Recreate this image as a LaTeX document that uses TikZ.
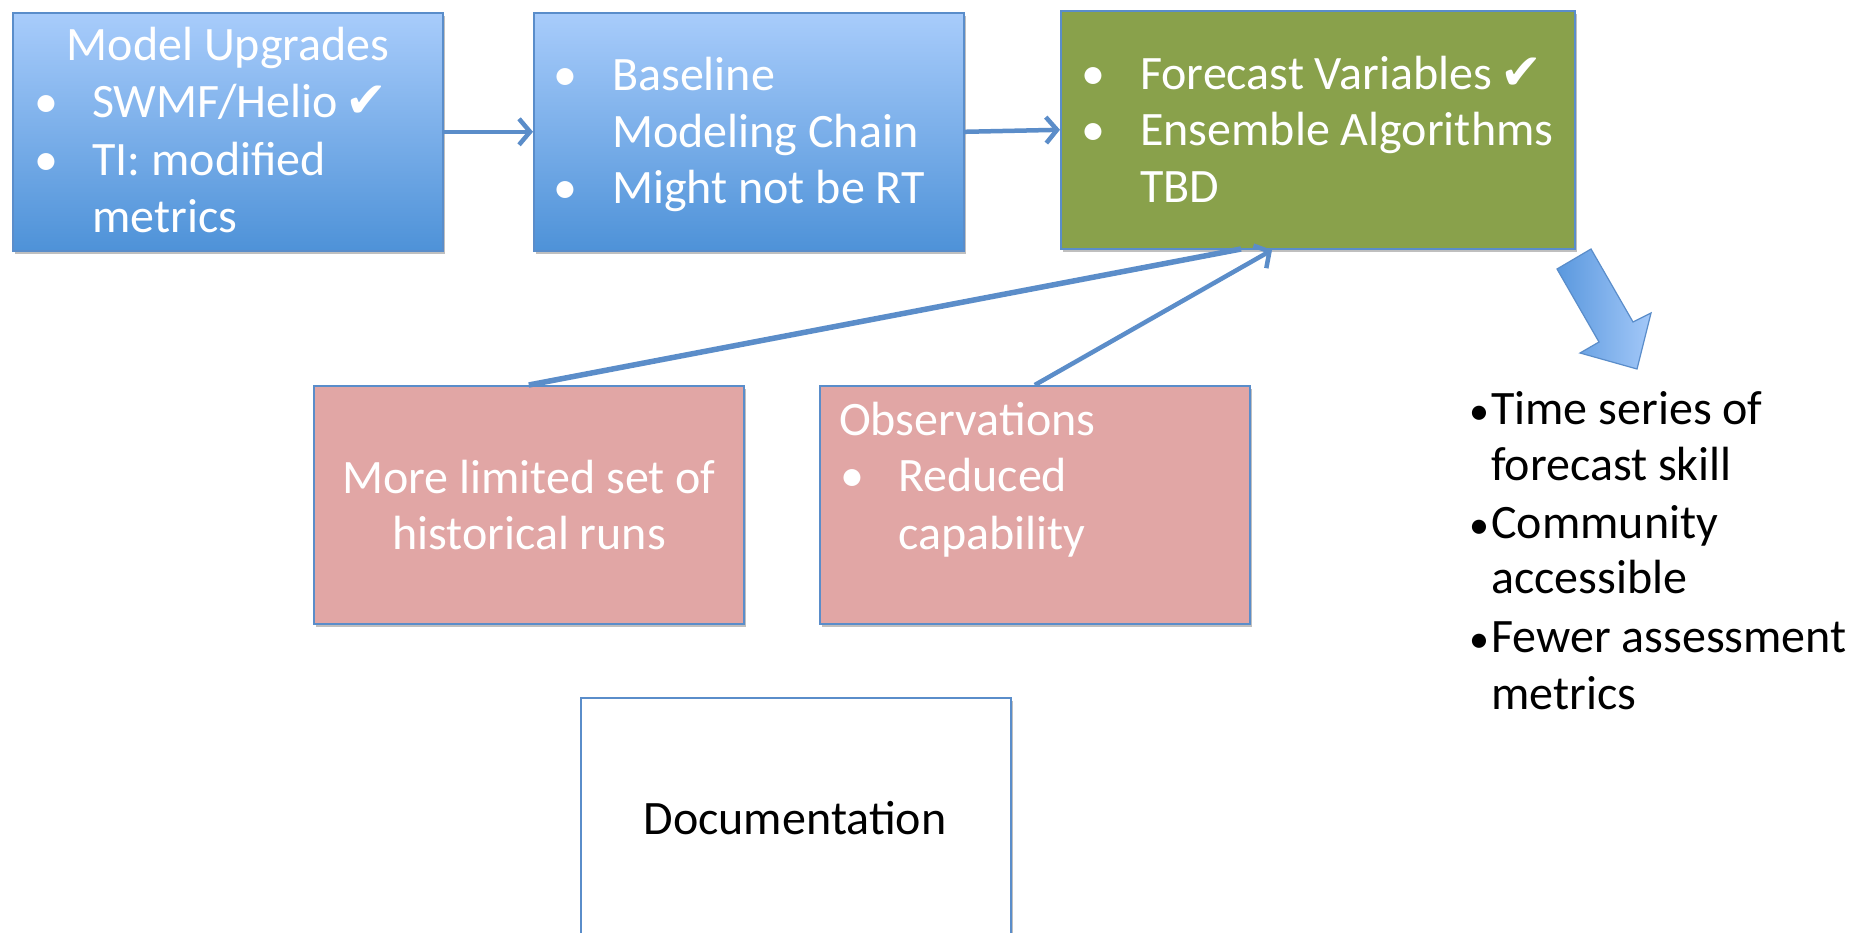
\documentclass[tikz,border=0pt]{standalone}
\usepackage{fontspec}
\setmainfont{Carlito}
\newfontfamily\dejavu{DejaVu Sans}
\newcommand\mychk{{\dejavu\fontsize{50}{50}\selectfont ✔}}
\usetikzlibrary{arrows.meta,shadows}
\definecolor{bluetop}{HTML}{A8CCFB}
\definecolor{bluebot}{HTML}{4E92D8}
\definecolor{edgeblue}{HTML}{5A8DCA}
\definecolor{lineblue}{HTML}{5B8DC9}
\definecolor{olivefill}{HTML}{89A14B}
\definecolor{pinkfill}{HTML}{E1A6A5}
\definecolor{arrdark}{HTML}{5A98DE}
\definecolor{arrlight}{HTML}{A3C8F8}
\tikzset{
  box/.style={draw=edgeblue, line width=1.6pt, minimum width=430pt, minimum height=238pt,
    anchor=north west, inner sep=0pt,
    drop shadow={shadow xshift=2pt, shadow yshift=-3pt, opacity=0.25, fill=black}},
  bluebox/.style={box, top color=bluetop, bottom color=bluebot},
  greenbox/.style={box, fill=olivefill},
  pinkbox/.style={box, fill=pinkfill},
  whitebox/.style={box, fill=white},
  txt/.style={anchor=base west, inner sep=0pt, font=\fontsize{48}{57}\selectfont},
  wtxt/.style={txt, text=white},
  smallbullet/.style={anchor=base west, inner sep=0pt, font=\fontsize{40}{57}\selectfont},
  conn/.style={draw=lineblue, line width=4.5pt},
  arr/.style={conn, -{Straight Barb[length=11pt,width=26pt,line width=4.5pt]}}
}
\begin{document}
\begin{tikzpicture}[x=1pt,y=-1pt]
\useasboundingbox (0,0) rectangle (1853,933);
\clip (0,0) rectangle (1853,933);
\fill[white] (0,0) rectangle (1853,933);

% boxes
\node[bluebox] (mu) at (12,12) {};
\node[bluebox] (bl) at (533,12) {};
\node[greenbox, minimum width=514pt] (fc) at (1060,10) {};
\node[pinkbox] (hr) at (313,385) {};
\node[pinkbox] (ob) at (819,385) {};
\node[whitebox, minimum height=300pt] (doc) at (580,697) {};

% Model Upgrades
\node[wtxt, anchor=base] (mu0) at (228,61) {Model Upgrades};
\node[wtxt] (mub1) at (34,118) {•};
\node[wtxt] (mu1) at (92,118) {SWMF/Helio\,\mychk};
\node[wtxt] (mub2) at (34,176) {•};
\node[wtxt] (mu2) at (92,176) {TI: modified};
\node[wtxt] (mu3) at (92,233) {metrics};

% Baseline
\node[wtxt] (blb1) at (553,91) {•};
\node[wtxt] (bl1) at (612,91) {Baseline};
\node[wtxt] (bl2) at (612,148) {Modeling Chain};
\node[wtxt] (blb2) at (553,204) {•};
\node[wtxt] (bl3) at (612,204) {Might not be RT};

% Forecast
\node[wtxt] (fcb1) at (1081,90) {•};
\node[wtxt] (fc1) at (1140,90) {Forecast Variables\,\mychk};
\node[wtxt] (fcb2) at (1081,146) {•};
\node[wtxt] (fc2) at (1140,146) {Ensemble Algorithms};
\node[wtxt] (fc3) at (1140,203) {TBD};

% historical runs
\node[wtxt, anchor=base] (hr1) at (529,493) {More limited set of};
\node[wtxt, anchor=base] (hr2) at (529,549) {historical runs};

% observations
\node[wtxt] (ob1) at (839,435) {Observations};
\node[wtxt] (obb1) at (840,491) {•};
\node[wtxt] (ob2) at (898,491) {Reduced};
\node[wtxt] (ob3) at (898,549) {capability};

% documentation
\node[txt, anchor=base] (doc1) at (795,834) {Documentation};

% right list
\node[smallbullet] (rb1) at (1469,424) {•};
\node[txt] (r1) at (1491,424) {Time series of};
\node[txt] (r2) at (1491,480) {forecast skill};
\node[smallbullet] (rb2) at (1469,538) {•};
\node[txt] (r3) at (1491,538) {Community};
\node[txt] (r4) at (1491,593) {accessible};
\node[smallbullet] (rb3) at (1469,652) {•};
\node[txt] (r5) at (1491,652) {Fewer assessment};
\node[txt] (r6) at (1491,709) {metrics};

% connectors
\draw[arr] (mu.east) -- (bl.west);
\draw[arr] (bl.east) -- (fc.west);
\coordinate (g1) at (1241,249);
\coordinate (g2) at (1272,250);
\draw[conn, line width=5.5pt] (hr.north) -- (g1);
\draw[arr] (ob.north) -- (g2);

% fat arrow
\coordinate (a1) at (1557,269);
\coordinate (a2) at (1591,249);
\coordinate (a3) at (1633,322);
\coordinate (a4) at (1651,313);
\coordinate (a5) at (1637,369);
\coordinate (a6) at (1580,353);
\coordinate (a7) at (1599,342);
\path[draw=edgeblue, line width=1.2pt, left color=arrdark, right color=arrlight, line join=miter]
  (a1) -- (a2) -- (a3) -- (a4) -- (a5) -- (a6) -- (a7) -- cycle;
\end{tikzpicture}
\end{document}
